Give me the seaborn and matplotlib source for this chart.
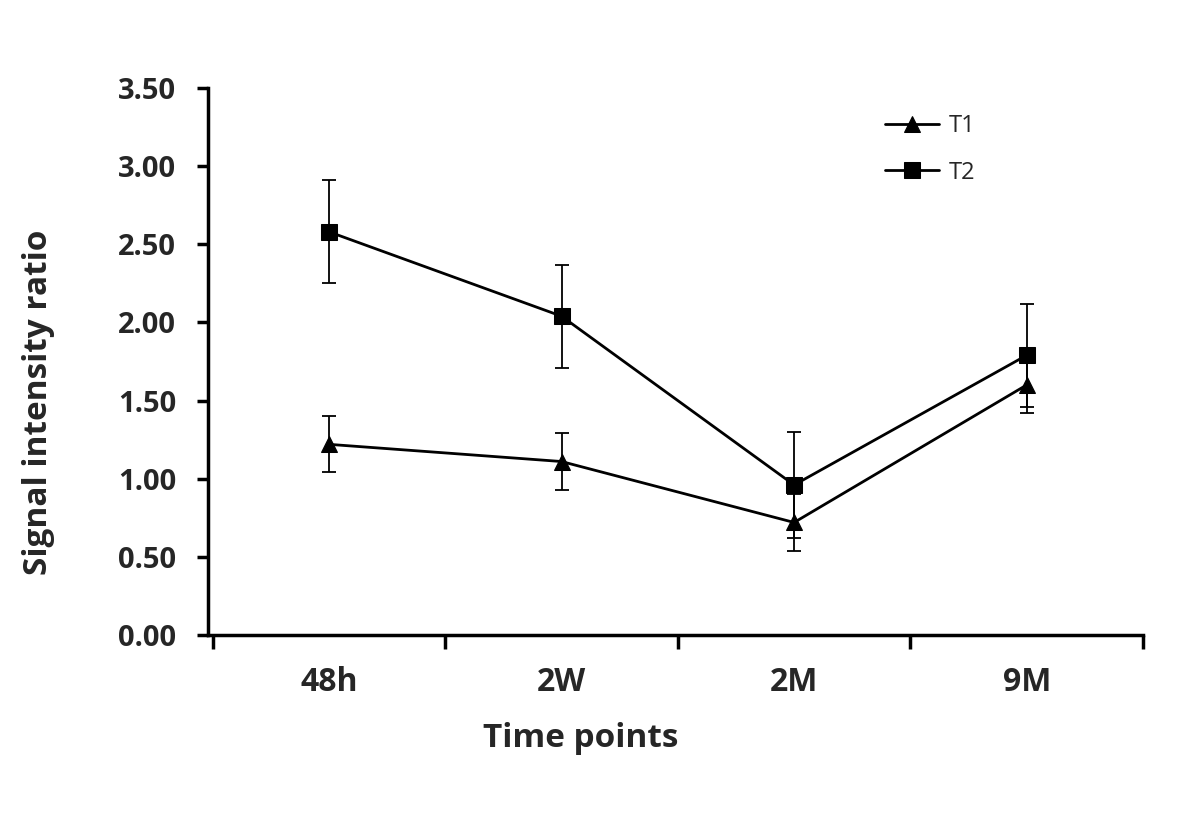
import matplotlib
matplotlib.use("Agg")
import matplotlib.pyplot as plt
import seaborn as sns
import pandas as pd
import numpy as np

categories = ["48h", "2W", "2M", "9M"]
t1_values = [1.22, 1.11, 0.72, 1.60]
t1_sd = [0.18, 0.18, 0.18, 0.18]
t2_values = [2.58, 2.04, 0.96, 1.79]
t2_sd = [0.33, 0.33, 0.34, 0.33]
yticks = [0.0, 0.5, 1.0, 1.5, 2.0, 2.5, 3.0, 3.5]

sns.set_theme(style="white")
plt.rcParams['font.family'] = ['Open Sans', 'DejaVu Sans']

idx = list(range(len(categories)))
df = pd.DataFrame({
    "x": idx * 2,
    "y": t1_values + t2_values,
    "series": ["T1"] * 4 + ["T2"] * 4,
})

fig = plt.figure(figsize=(12, 8.32), dpi=100)
ax = fig.add_axes([0.1733, 0.2368, 0.7792, 0.6574])

ax.errorbar(idx, t1_values, yerr=t1_sd, fmt="none", ecolor="black",
            elinewidth=1.3, capsize=5, capthick=1.3, zorder=2)
ax.errorbar(idx, t2_values, yerr=t2_sd, fmt="none", ecolor="black",
            elinewidth=1.3, capsize=5, capthick=1.3, zorder=2)

sns.lineplot(data=df, x="x", y="y", hue="series", style="series",
             markers={"T1": "^", "T2": "s"}, dashes=False,
             palette={"T1": "black", "T2": "black"},
             markersize=12, linewidth=2, markeredgecolor="black",
             ax=ax, zorder=3)

ax.set_xlim(-0.52, 3.5)
ax.set_ylim(0, 3.5)
ax.set_yticks(yticks)
ax.set_yticklabels([f"{v:.2f}" for v in yticks], fontsize=21, fontweight="bold")
ax.set_xticks([-0.5, 0.5, 1.5, 2.5, 3.5])
ax.set_xticklabels([])
ax.set_xticks(idx, minor=True)
ax.set_xticklabels(categories, minor=True, fontsize=23, fontweight="bold")
ax.tick_params(axis="x", which="major", direction="out", length=10, width=2.5, color="black", bottom=True)
ax.tick_params(axis="x", which="minor", length=0, pad=22)
ax.tick_params(axis="y", which="major", direction="out", length=8, width=2.5, color="black", left=True, pad=15)

for s in ["top", "right"]:
    ax.spines[s].set_visible(False)
for s in ["left", "bottom"]:
    ax.spines[s].set_linewidth(2.5)
    ax.spines[s].set_color("black")

ax.set_xlabel("Time points", fontsize=24, fontweight="bold")
ax.set_ylabel("Signal intensity ratio", fontsize=24, fontweight="bold")
ax.xaxis.set_label_coords(0.399, -0.159)
ax.yaxis.set_label_coords(-0.164, 0.426)

leg = ax.legend(loc="upper left", bbox_to_anchor=(0.724, 0.952), frameon=False,
                fontsize=17, handlelength=2.3, labelspacing=0.95, handletextpad=0.4,
                borderaxespad=0, borderpad=0)

fig.savefig("out.png", dpi=100)
